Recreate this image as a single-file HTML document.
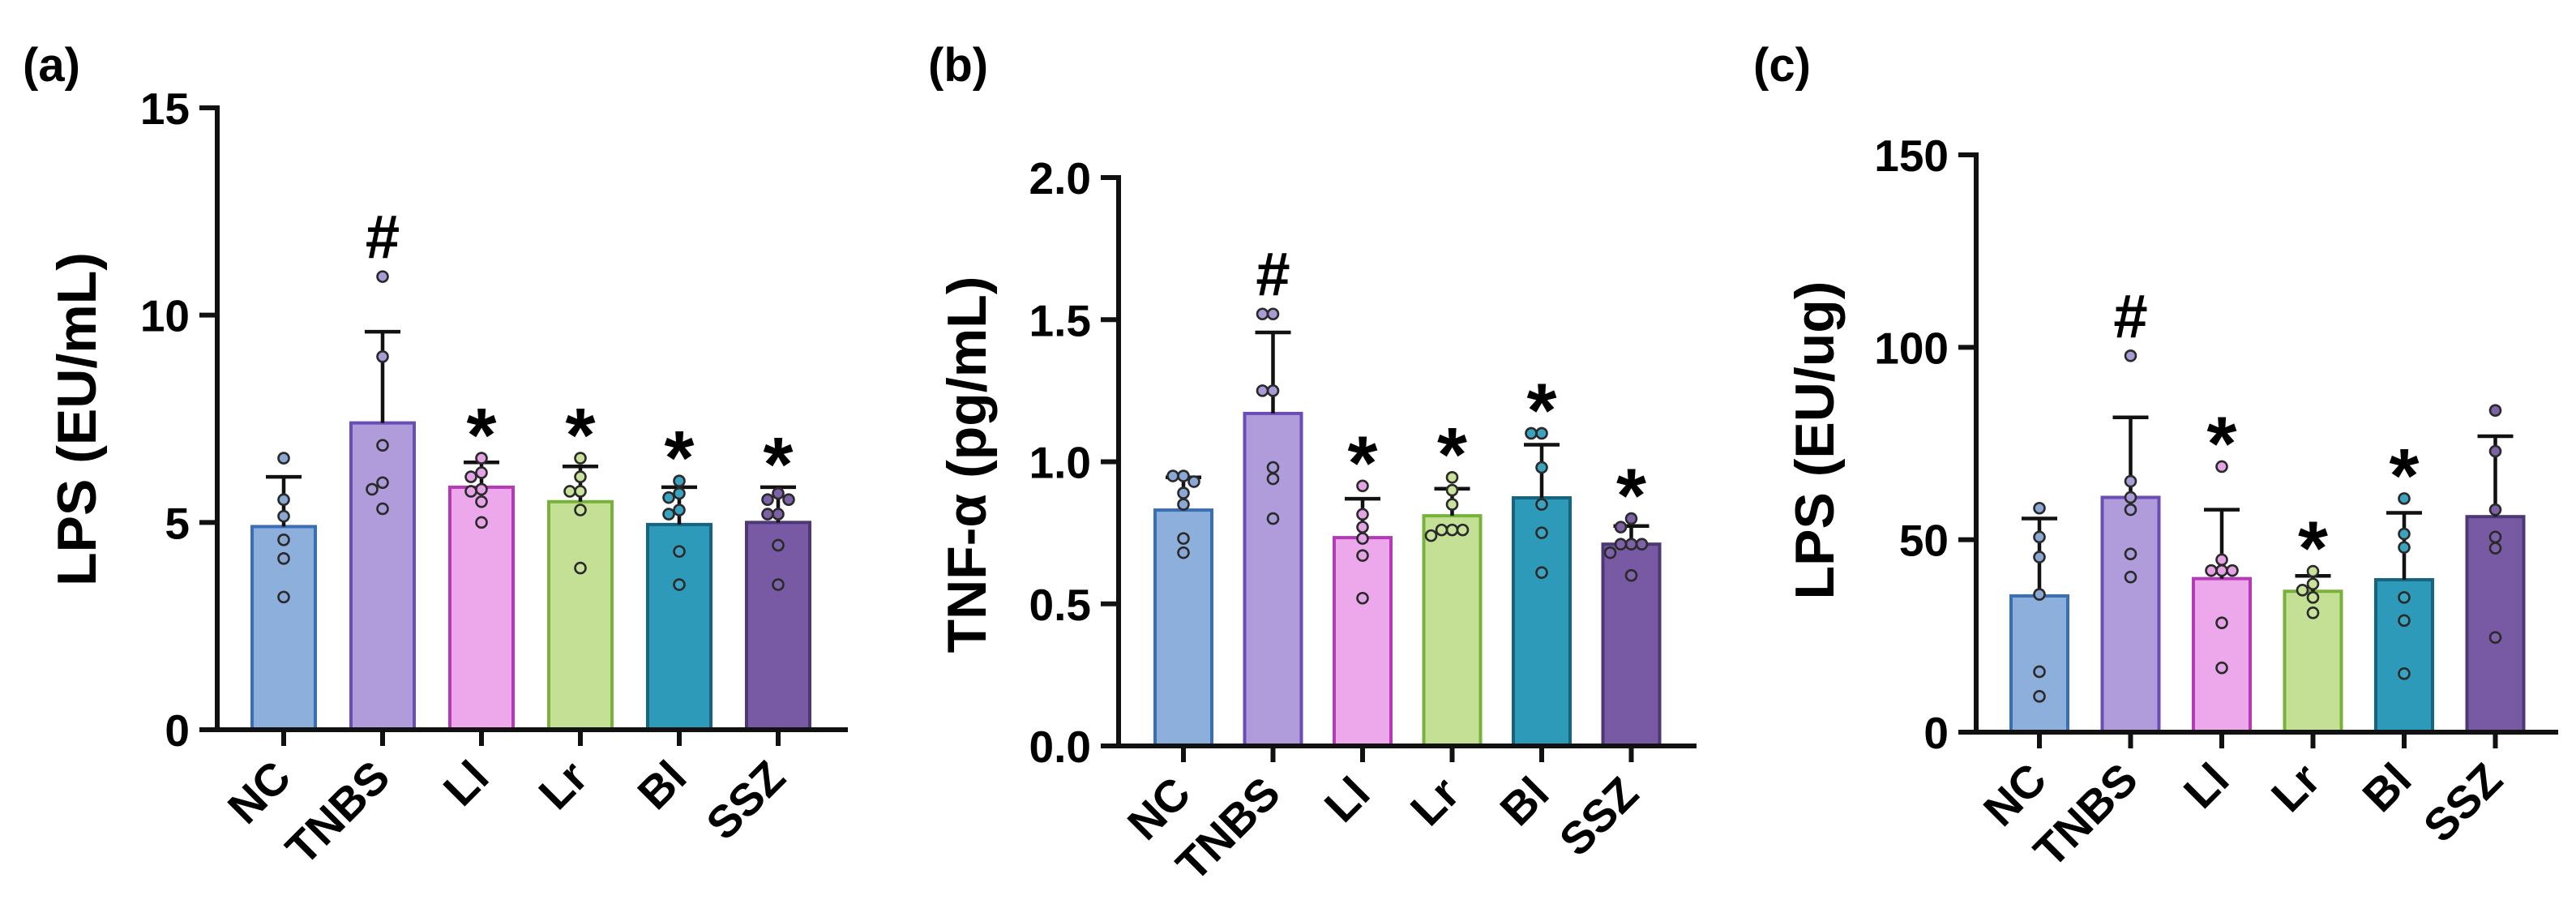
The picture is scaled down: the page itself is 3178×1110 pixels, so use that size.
<!DOCTYPE html>
<html><head><meta charset="utf-8">
<style>
html,body{margin:0;padding:0;background:#fff;}
svg{display:block;font-family:"Liberation Sans",Arial,sans-serif;font-weight:bold;}
</style></head>
<body>
<svg id="fig" width="3178" height="1110" viewBox="0 0 3178 1110" xmlns="http://www.w3.org/2000/svg"></svg>
<script>
// ---- data ----
const categories = ["NC","TNBS","Ll","Lr","Bl","SSZ"];
const labelsShown = ["NC","TNBS","Ll","Lr","Bl","SSZ"];
// panel a: LPS (EU/mL)
const aMeans = [4.9, 7.4, 5.85, 5.5, 4.95, 5.0];
const aSD = [1.2, 2.2, 0.6, 0.85, 0.9, 0.85];
const aPoints = [
  [6.55,5.55,5.15,4.58,4.13,3.2],
  [10.93,9.0,6.86,5.96,5.8,5.33],
  [6.55,6.2,6.1,5.8,5.75,5.5,5.0],
  [6.55,6.1,5.75,5.75,5.3,3.9],
  [6.0,5.7,5.6,5.3,5.2,4.3,3.5],
  [5.7,5.55,5.55,5.2,5.2,4.45,3.5]
];
const aMarks = ["","#","*","*","*","*"];
const aTicks = [0,5,10,15];
const aTickLabels = ["0","5","10","15"];
// panel b: TNF-alpha (pg/mL)
const bMeans = [0.83, 1.17, 0.733, 0.81, 0.873, 0.71];
const bSD = [0.115, 0.285, 0.137, 0.095, 0.187, 0.064];
const bPoints = [
  [0.95,0.95,0.93,0.89,0.85,0.73,0.68],
  [1.52,1.52,1.25,1.25,0.98,0.94,0.80],
  [0.915,0.815,0.77,0.73,0.67,0.52],
  [0.945,0.9,0.85,0.76,0.76,0.76,0.74],
  [1.10,1.10,0.98,0.85,0.75,0.61],
  [0.80,0.77,0.71,0.71,0.71,0.68,0.60]
];
const bMarks = ["","#","*","*","*","*"];
const bTicks = [0,0.5,1.0,1.5,2.0];
const bTickLabels = ["0.0","0.5","1.0","1.5","2.0"];
// panel c: LPS (EU/ug)
const cMeans = [35.4, 61, 39.9, 36.6, 39.6, 56];
const cSD = [20.1, 20.8, 17.9, 4.0, 17.4, 20.9];
const cPoints = [
  [58.2,50.7,45.5,35.8,15.7,9.3],
  [97.8,65.2,61,57.8,46.3,40.3],
  [69,44.8,42,42,42,28.4,16.7],
  [41.8,38.5,36.9,35,31],
  [60.7,51.5,48,35,29,15.2],
  [83.6,73,57.8,50.7,47.8,24.6]
];
const cMarks = ["","#","*","*","*",""];
const cTicks = [0,50,100,150];
const cTickLabels = ["0","50","100","150"];

const fills = ["#8dafdc","#b09cdb","#eda8ec","#c4e095","#2e9ab9","#775aa3"];
const strokes = ["#3a6fb5","#6a4cb5","#b53bb6","#78b23a","#16647f","#4c3876"];
const dotFills = ["#8aa8d4","#a99bd6","#e4a3e4","#c8e29c","#3aa3c0","#7d62a8"];

const NS="http://www.w3.org/2000/svg";
const svg=document.getElementById('fig');
function el(tag,attrs,parent){const e=document.createElementNS(NS,tag);for(const k in attrs)e.setAttribute(k,attrs[k]);(parent||svg).appendChild(e);return e;}

function panel(cfg){
  const g=el('g',{});
  
  
  const y=v=>cfg.y0-(v-cfg.min)/(cfg.max-cfg.min)*(cfg.y0-cfg.yTop);
  const x=i=>cfg.x0+i*cfg.step;
  const L=el('text',{x:cfg.letterX,y:cfg.letterY,'font-size':58},g);
  L.textContent='('+cfg.id+')';
  
  
  const T=el('text',{x:cfg.titleX,y:cfg.titleY,'font-size':68,'text-anchor':'middle',transform:`rotate(-90 ${cfg.titleX} ${cfg.titleY})`},g);
  T.textContent=cfg.title;
  
  
  cfg.means.forEach((m,i)=>{
    const cx=x(i);
    const b=el('rect',{x:cx-cfg.bw/2,y:y(m),width:cfg.bw,height:cfg.y0-y(m),fill:fills[i],stroke:strokes[i],'stroke-width':4},g);
    
    
    const top=y(m+cfg.sd[i]);
    const e1=el('path',{d:`M${cx} ${y(m)} V${top} M${cx-22} ${top} H${cx+22}`,stroke:'#111','stroke-width':4.5,fill:'none'},g);
    
    
    const r=6.5, placed=[];
    cfg.points[i].forEach(v=>{
      const py=y(v);let off=0;
      const cands=[0,-13,13,-26,26,-39,39];
      for(const c of cands){if(placed.every(p=>Math.hypot(p[0]-c,p[1]-py)>=2*r)){off=c;break;}}
      placed.push([off,py]);
      const d=el('circle',{cx:cx+off,cy:py,r:r,fill:dotFills[i],stroke:'#2a2a2a','stroke-width':2.6},g);
      
      
    });
    const mk=cfg.marks[i];
    if(mk){
      const maxV=Math.max(m+cfg.sd[i],...cfg.points[i]);
      const cy=y(maxV)-50;
      const s=el('text',{x:cx,y:mk==='*'?cy+54:cy+27,'font-size':mk==='*'?95:76,'text-anchor':'middle'},g);
      s.textContent=mk;
      
      
    }
    const tk=el('line',{x1:cx,x2:cx,y1:cfg.y0,y2:cfg.y0+20,stroke:'#111','stroke-width':6},g);
    
    
    const lx=cx+12, ly=cfg.y0+62;
    const xl=el('text',{x:lx,y:ly,'font-size':56,'text-anchor':'end',transform:`rotate(-45 ${lx} ${ly})`},g);
    xl.textContent=labelsShown[i];
    
    
  });
  const ax=el('path',{d:`M${cfg.axX} ${cfg.yTop} V${cfg.y0} H${cfg.xEnd}`,stroke:'#111','stroke-width':6,fill:'none','stroke-linecap':'square'},g);
  
  
  cfg.ticks.forEach((t,k)=>{
    const tl=el('line',{x1:cfg.axX-22,x2:cfg.axX,y1:y(t),y2:y(t),stroke:'#111','stroke-width':6},g);
    
    
    const tt=el('text',{x:cfg.axX-34,y:y(t)+20,'font-size':55,'text-anchor':'end'},g);
    tt.textContent=cfg.tickLabels[k];
    
    
  });
}

panel({id:'a',min:0,max:15,y0:900,yTop:133,axX:268,xEnd:1043,x0:350,step:122,bw:78,
  means:aMeans,sd:aSD,points:aPoints,marks:aMarks,ticks:aTicks,tickLabels:aTickLabels,
  title:'LPS (EU/mL)',titleX:118,titleY:517,letterX:28,letterY:100});
panel({id:'b',min:0,max:2,y0:920,yTop:219,axX:1380,xEnd:2090,x0:1460,step:110.5,bw:70,
  means:bMeans,sd:bSD,points:bPoints,marks:bMarks,ticks:bTicks,tickLabels:bTickLabels,
  title:'TNF-α (pg/mL)',titleX:1216,titleY:573,letterX:1145,letterY:100});
panel({id:'c',min:0,max:150,y0:903,yTop:191,axX:2438,xEnd:3153,x0:2516,step:112.5,bw:70,
  means:cMeans,sd:cSD,points:cPoints,marks:cMarks,ticks:cTicks,tickLabels:cTickLabels,
  title:'LPS (EU/ug)',titleX:2262,titleY:543,letterX:2163,letterY:100});
</script>
</body></html>
